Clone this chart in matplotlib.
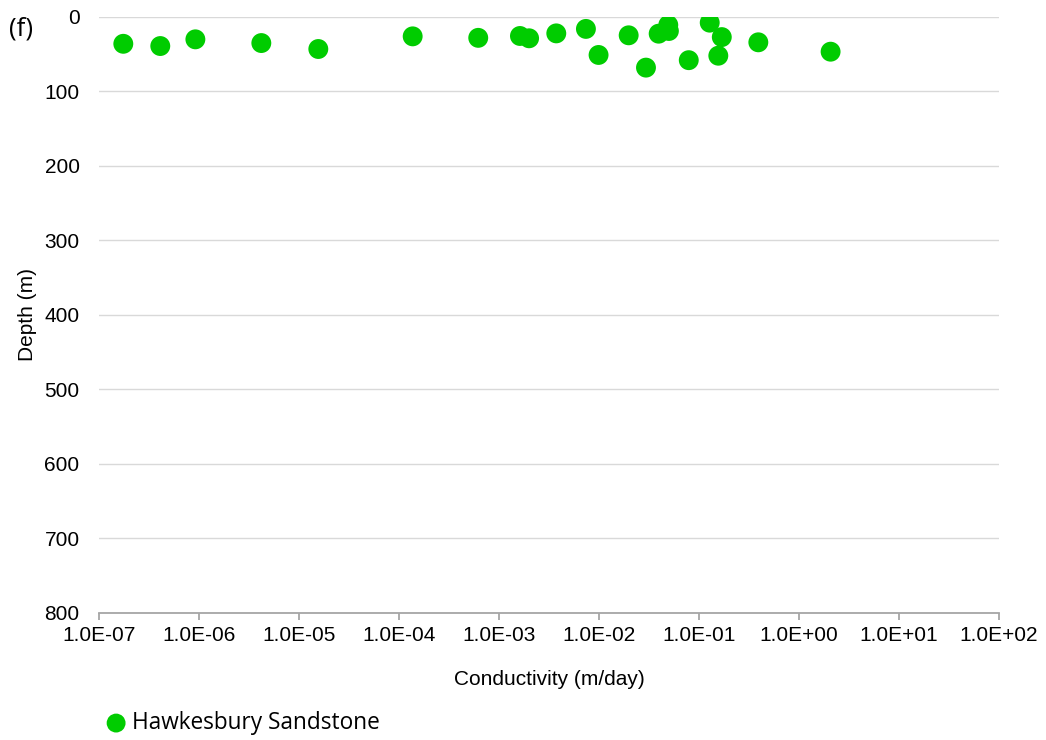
import matplotlib.pyplot as plt
import matplotlib.ticker as mticker

# Hawkesbury Sandstone: conductivity (m/day) vs depth (m)
conductivity = [1.75e-7, 4.1e-7, 9.2e-7, 4.2e-6, 1.56e-5, 1.37e-4, 6.2e-4,
                1.62e-3, 2.0e-3, 3.74e-3, 7.4e-3, 9.9e-3, 1.98e-2, 2.95e-2,
                3.95e-2, 4.93e-2, 5.0e-2, 7.9e-2, 0.128, 0.169, 0.156,
                0.392, 2.07]
depth = [36, 39, 30, 35, 43, 26, 28, 25.5, 28.6, 22, 16, 51, 24.6, 68,
         22.4, 10.7, 18.8, 58, 7.6, 27, 52, 34, 46.6]
series_name = 'Hawkesbury Sandstone'
x_ticks = [1e-7, 1e-6, 1e-5, 1e-4, 1e-3, 1e-2, 1e-1, 1e0, 1e1, 1e2]
y_ticks = list(range(0, 900, 100))

green = '#00cc00'
grid_c = '#d9d9d9'
axis_c = '#a6a6a6'

fig = plt.figure(figsize=(10.46, 7.4), dpi=100)
ax = fig.add_axes([99 / 1046, 1 - 612.5 / 740, 900 / 1046, 595.5 / 740])

ax.scatter(conductivity, depth, s=205, color=green, edgecolors='none',
           zorder=3, label=series_name)

ax.set_xscale('log')
ax.set_xlim(1e-7, 1e2)
ax.set_ylim(800, 0)
ax.set_xticks(x_ticks)
ax.xaxis.set_minor_locator(mticker.NullLocator())
ax.xaxis.set_major_formatter(mticker.FuncFormatter(
    lambda v, p: '%.1E' % v))
ax.set_yticks(y_ticks)

for s in ['left', 'right', 'top']:
    ax.spines[s].set_visible(False)
ax.spines['bottom'].set_color(axis_c)
ax.spines['bottom'].set_linewidth(1.3)
ax.grid(axis='y', color=grid_c, linewidth=1.0, zorder=0)
ax.set_axisbelow(True)

ax.tick_params(axis='x', direction='out', length=5, width=1.3,
               color=axis_c, pad=5, labelsize=15)
ax.tick_params(axis='y', length=0, pad=14, labelsize=15)
for lab in ax.get_xticklabels() + ax.get_yticklabels():
    lab.set_fontfamily('Liberation Sans')
    lab.set_color('#000000')

ax.set_xlabel('Conductivity (m/day)', fontsize=15, family='Liberation Sans',
              labelpad=18)
ax.set_ylabel('Depth (m)', fontsize=15, family='Liberation Sans')
ax.yaxis.set_label_coords((37 - 99) / 900, 0.5)

fig.text(9 / 1046, 1 - 29 / 740, '(f)', fontsize=18.5, family='Open Sans',
         va='center', ha='left')

leg = fig.legend(loc='center left', bbox_to_anchor=(98 / 1046, 1 - 723 / 740),
                 frameon=False, handletextpad=-0.12, handlelength=1.6,
                 borderpad=0, borderaxespad=0, markerscale=0.95,
                 prop={'family': 'Open Sans', 'size': 16.3})

fig.savefig('out.png', dpi=100)
